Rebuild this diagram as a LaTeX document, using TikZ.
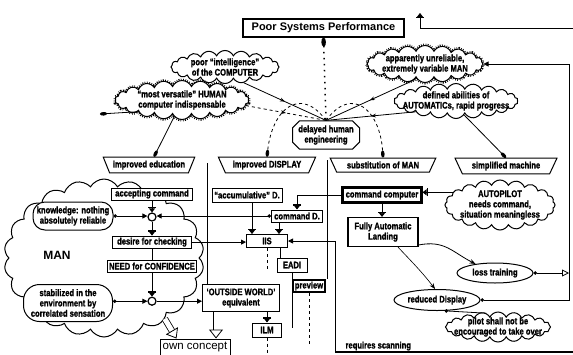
\documentclass[tikz,border=0pt]{standalone}
\usepackage{fontspec}
\usepackage{tikz}
\usetikzlibrary{arrows.meta,positioning,shapes.geometric,shapes.symbols,shapes.misc,calc,decorations.markings}
\setmainfont{Liberation Sans}
\newfontfamily\condsans{Liberation Sans}[FakeStretch=0.8, BoldFeatures={FakeBold=1.3}]
\newcommand{\lblfont}{\condsans\bfseries\fontsize{9.5}{10.3}\selectfont}

\begin{document}
\begin{tikzpicture}[
    x=1pt, y=-1pt,
    font=\lblfont,
    box/.style={rectangle, draw, line width=1pt, fill=white, inner sep=1.5pt, minimum height=12pt, align=center},
    heavy/.style={box, line width=2.2pt},
    header/.style={trapezium, trapezium angle=68, shape border rotate=180, trapezium stretches=true, draw, line width=1pt, fill=white, minimum height=14pt},
    puff/.style={cloud, cloud puffs=#1, cloud puff arc=130, cloud ignores aspect, draw, line width=1pt, fill=white, align=center, inner xsep=-10pt, inner ysep=-4pt},
    hatched/.style={preaction={draw, line width=4pt, dash pattern=on 0.7pt off 1.3pt}},
    bubble/.style={ellipse, draw, line width=1pt, fill=white, align=center, inner xsep=-6pt, inner ysep=-3pt},
    blob/.style={rectangle, rounded corners=12pt, draw, line width=1pt, fill=white, align=center, inner sep=0pt},
    junction/.style={circle, draw, line width=1.2pt, fill=white, minimum size=8pt, inner sep=0pt},
    flow/.style={line width=0.8pt, -{Bar[width=8pt,line width=1.2pt]Triangle[width=6pt,length=4pt]}},
    feed/.style={line width=0.8pt, {Circle[length=3.5pt]}-{Triangle[width=5pt,length=5pt]}},
    drop/.style={line width=0.8pt, -{Circle[length=7pt,width=3.5pt]}},
    hollow/.style={double, double distance=5pt, line width=0.8pt, -{Triangle[open,width=14pt,length=9pt]}},
    midarrow/.style={postaction={decorate}, decoration={markings, mark=at position 0.5 with {\arrow{Stealth[length=5pt]}}}}
]
\useasboundingbox (0,0) rectangle (573,354);

% the MAN cloud behind the left column
\node[puff=22, cloud puff arc=120, minimum width=200pt, minimum height=158pt] (mancloud) at (104,258) {};
\node[font=\normalfont\bfseries\fontsize{12}{12}\selectfont] (mantext) at (57,255) {MAN};

% top
\node[box, font=\normalfont\bfseries\fontsize{11}{12}\selectfont, minimum width=161pt, minimum height=18pt, line width=1.2pt] (poor) at (323.5,28) {Poor Systems Performance};

\node[puff=20, minimum width=108pt, minimum height=33pt] (intel) at (225,67) {poor “intelligence”\\of the COMPUTER};
\node[puff=22, hatched, minimum width=134pt, minimum height=39pt] (versatile) at (182,100) {“most versatile” HUMAN\\computer indispensable};
\node[puff=20, hatched, minimum width=116pt, minimum height=37pt] (unrel) at (425,64) {apparently unreliable,\\extremely variable MAN};
\node[puff=22, minimum width=124pt, minimum height=35pt] (autom) at (456,101) {defined abilities of\\AUTOMATICs, rapid progress};
\node[chamfered rectangle, draw, line width=1pt, fill=white, align=center, minimum width=67pt, minimum height=25pt, inner sep=1pt] (delayed) at (326,135) {delayed human\\engineering};

% column headers
\node[header, minimum width=84pt] (edu) at (149,165) {improved education};
\node[header, minimum width=98pt] (disp) at (267,165) {improved DISPLAY};
\node[header, minimum width=106pt] (subst) at (383,165) {substitution of MAN};
\node[header, minimum width=102pt] (simp) at (506,166) {simplified machine};

% left column
\node[box, minimum width=81pt] (accept) at (152,194) {accepting command};
\node[junction] (j1) at (152,217) {};
\node[box, minimum width=79pt, below=14pt of j1] (desire) {desire for checking};
\node[box, minimum width=86pt, below=11pt of desire] (need) {NEED for CONFIDENCE};
\node[junction, below=24pt of need] (j2) {};
\node[blob, minimum width=80pt, minimum height=28pt] (know) at (73,216) {knowledge: nothing\\absolutely reliable};
\node[blob, rounded corners=16pt, minimum width=89pt, minimum height=37pt] (stabil) at (68,303) {stabilized in the\\environment by\\correlated sensation};

% middle column
\node[box, minimum width=70pt, minimum height=14pt] (accum) at (247,195) {“accumulative” D.};
\node[box, minimum width=51pt] (cmdD) at (297,216) {command D.};
\node[box, minimum width=41pt, minimum height=13pt] (iis) at (267,241) {IIS};
\node[box, minimum width=30pt, minimum height=14pt] (eadi) at (292,265) {EADI};
\node[heavy, minimum width=32pt] (preview) at (309,286) {preview};
\node[box, minimum width=77pt, minimum height=27pt] (outside) at (241,298) {‘OUTSIDE WORLD’\\equivalent};
\node[box, minimum width=29pt, minimum height=14pt] (ilm) at (267,330) {ILM};
\node[box, font=\normalfont\fontsize{11.5}{12}\selectfont, minimum width=70pt, minimum height=16pt] (own) at (195,347) {own concept};

% right columns
\node[heavy, minimum width=79pt, minimum height=15pt] (cmdC) at (382,195) {command computer};
\node[box, minimum width=70pt, minimum height=29pt, line width=1.2pt] (landing) at (383,232) {Fully Automatic\\Landing};
\node[puff=20, minimum width=110pt, minimum height=50pt] (autopilot) at (500,205) {AUTOPILOT\\needs command,\\situation meaningless};
\node[bubble, minimum width=76pt, minimum height=20pt] (loss) at (495,273) {loss training};
\node[bubble, minimum width=86pt, minimum height=21pt] (reduced) at (437,300) {reduced Display};
\node[puff=20, minimum width=105pt, minimum height=30pt] (pilot) at (498,327) {pilot shall not be\\encouraged to take over};
\node[anchor=west] (scan) at (342,346) {requires scanning};

\coordinate (edgeR) at (573,28);
\coordinate (upT) at (420,13);
\coordinate (loop) at (569,65);
\coordinate (scanB) at (335,352);
\coordinate (rule1) at (207,163);
\coordinate (rule2) at (327,160);
\coordinate (vtail) at (100,114);

% column rules
\draw[line width=1pt] (rule1) -- (rule1 |- outside.north);
\draw[line width=1pt] (rule2) -- (rule2 |- preview.north);

% into the delayed human engineering
\draw[line width=1.5pt, dash pattern=on 1.5pt off 4.5pt, {Circle[length=9pt,width=4.5pt]}-] (poor.south) -- (delayed.north);
\draw[line width=0.8pt, midarrow] (intel.-40) -- (delayed.north);
\draw[line width=0.8pt, dashed, midarrow] (versatile.-5) -- (delayed.north);
\draw[line width=0.8pt, midarrow] (unrel.235) -- (delayed.north);
\draw[line width=0.8pt, midarrow] (autom.195) -- (delayed.north);
\draw[dashed, drop] (delayed.north) .. controls (300,85) and (272,110) .. (disp.north);
\draw[dashed, drop] (delayed.north) .. controls (352,85) and (380,110) .. (subst.north);
\draw[drop] (versatile.245) -- ([xshift=5pt]edu.north);
\draw[drop] (versatile.195) -- (vtail);
\draw[drop] (autom.300) -- (simp.north);

% feedback
\draw[flow] (edgeR) -| (upT);
\draw[feed] (reduced.east) -| (unrel.east -| loop) -- (unrel.east);
\draw[line width=0.8pt, {Circle[length=3.5pt]}-{Triangle[open,width=7pt,length=7pt]}] (loss.east) -- (loss.east -| loop);
\draw[{Circle[length=3.5pt]}-, line width=0.8pt] (reduced.-55) -- (pilot.130);

% right column
\draw[flow] (autopilot.165) -- (autopilot.165 -| cmdC.east);
\draw[flow] (cmdC.south) -- (cmdC.south |- landing.north);
\draw[flow] (cmdC.west) -| (cmdD.north);
\draw[line width=0.8pt, -{Stealth[length=6pt]}] (landing.-20) .. controls (445,240) and (452,252) .. (loss.155);
\draw[line width=0.6pt, -{Stealth[length=6pt]}] ([xshift=15pt]landing.south) .. controls (412,262) and (422,272) .. (reduced.100);

% left column
\draw[flow] (accept.south) -- (j1.north);
\draw[feed] (know.east) -- (know.east -| j1.west);
\draw[feed] (cmdD.west) -- (cmdD.west -| j1.east);
\draw[flow] (j1.south) -- (desire.north);
\draw[line width=0.8pt] (desire.south) -- (need.north);
\draw[flow] (need.south) -- (j2.north);
\draw[feed] (stabil.east |- j2.west) -- (j2.west);
\draw[line width=0.8pt, -{Triangle[width=5pt,length=5pt]}] (j2.east) -- (j2.east -| outside.west);
\draw[line width=0.8pt, -{Triangle[width=5pt,length=5pt]}] (desire.east) -- (desire.east -| iis.west);

% display column
\draw[flow] ([xshift=5pt]accum.south) -- ([xshift=5pt]accum.south |- iis.north);
\draw[flow] ([xshift=-18pt]cmdD.south) -- ([xshift=-18pt]cmdD.south |- iis.north);
\draw[line width=0.8pt, -{Triangle[width=5pt,length=5pt]}] (scanB) |- (iis.east);
\draw[line width=1.2pt] (scanB) -- (scanB -| edgeR);
\draw[line width=0.8pt, dashed] (iis.south) -- ++(0,22);
\draw[line width=0.8pt] ([xshift=13pt]iis.south) -- ([xshift=13pt]iis.south |- eadi.north);
\draw[line width=0.8pt] (eadi.south) -- ++(0,55);
\draw[line width=0.8pt, dashed] (preview.south) -- ++(0,51);
\draw[flow] ([xshift=26pt]outside.south) -- ([xshift=26pt]outside.south |- ilm.north);
\draw[line width=0.8pt, dashed] (ilm.south) -- ++(0,17);

% own concept
\draw[hollow] ([xshift=-25pt]outside.south) -- ([xshift=-25pt]outside.south |- own.north);
\draw[hollow] (mancloud.-45) -- ([xshift=17pt]own.north west);

\end{tikzpicture}
\end{document}
